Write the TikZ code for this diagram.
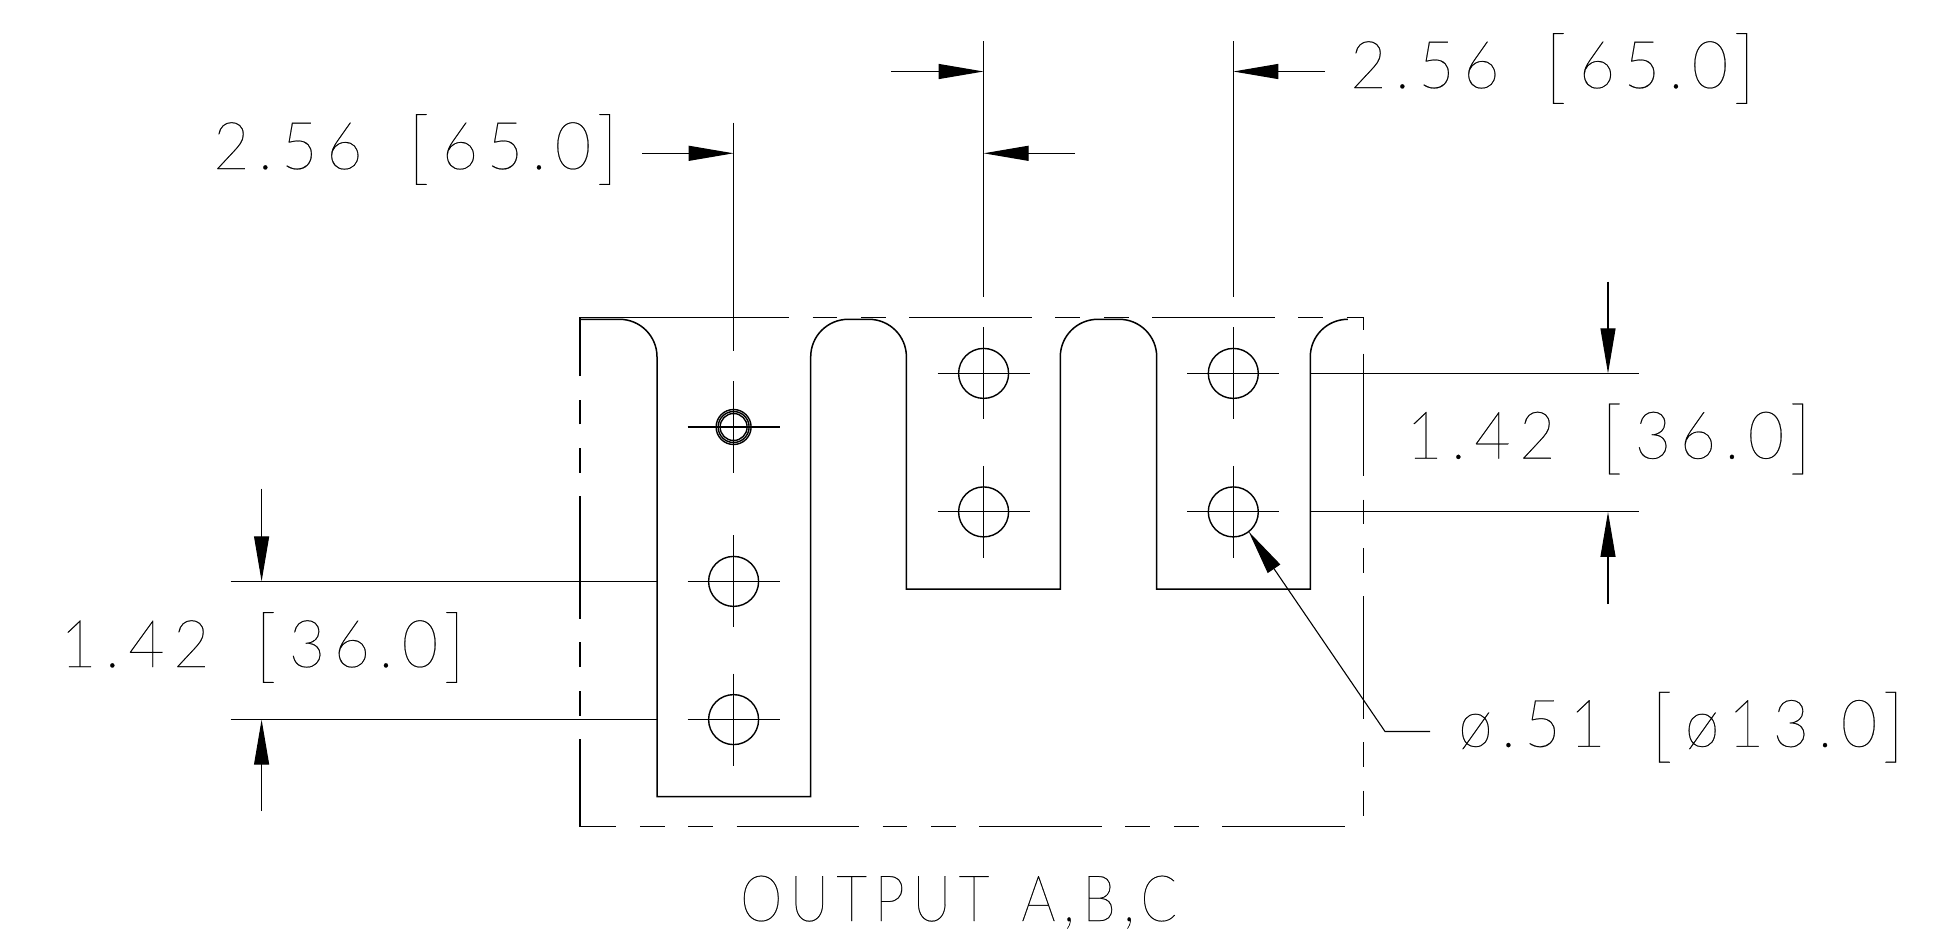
\documentclass[tikz,border=0pt]{standalone}
\usepackage{fontspec}
\usetikzlibrary{calc,positioning,arrows.meta}
\newfontfamily\dimfont[FakeStretch=0.95,LetterSpace=13,FakeBold=0.3]{Lato Thin}
\newfontfamily\titlefont[FakeStretch=0.84,LetterSpace=12,FakeBold=0.3]{Lato Thin}
\newcommand{\dimgap}{\hspace{45pt}}
\newcommand{\dimopen}{\raisebox{-6pt}{\fontsize{81}{70}\selectfont[}\kern12pt}
\newcommand{\dimclose}{\kern5pt\raisebox{-6pt}{\fontsize{81}{70}\selectfont]}}
\tikzset{
  line/.style = {-{Triangle[length=45pt,width=15pt]}, line width=1.1pt},
  thin line/.style = {line width=1.1pt},
  part/.style = {line width=1.5pt},
  hidden/.style = {line width=1.3pt, dash pattern=on 122.4pt off 23.6pt on 24.8pt off 23.6pt on 24.8pt off 23.6pt},
  hole/.style = {circle, draw, line width=1.4pt, inner sep=0pt, outer sep=0pt, minimum size=50pt},
  dimtext/.style = {anchor=base west, inner sep=0pt, font=\dimfont\fontsize{66}{70}\selectfont},
  titletext/.style = {anchor=base west, inner sep=0pt, font=\titlefont\fontsize{64}{70}\selectfont},
}

\begin{document}
\begin{tikzpicture}[x=1pt,y=-1pt]
  \useasboundingbox (0,0) rectangle (1944,948);
  % outline of the three output tabs
  \draw[part] (580,319.3) -- (619.5,319.3) arc[start angle=270,end angle=360,radius=37.5]
    -- (657,796.5) -- (810.7,796.5) -- (810.7,356.8) arc[start angle=180,end angle=270,radius=37.5]
    -- ++(20.7,0) arc[start angle=270,end angle=360,radius=37.5]
    -- (906.4,589) -- (1060.3,589) -- (1060.3,356.8) arc[start angle=180,end angle=270,radius=37.5]
    -- ++(21.4,0) arc[start angle=270,end angle=360,radius=37.5]
    -- (1156.7,589) -- (1310.3,589) -- (1310.3,356.8) arc[start angle=180,end angle=270,radius=37.5];
  % hidden rectangle
  \coordinate (tl) at (580,317.3);
  \coordinate (tm) at (789,317.3);
  \coordinate (tr) at (1363.3,317.3);
  \coordinate (bl) at (580,826.5);
  \coordinate (br) at (1363.3,826.5);
  \draw[part] (tl) -- (tm);
  \draw[hidden, dash phase=122.4pt] (tm) -- (tr);
  \draw[hidden, dash phase=35.1pt] (bl) -- (tl);
  \draw[hidden, dash phase=86.2pt] (bl) -- (br);
  \draw[hidden, dash phase=206.6pt] (tr) -- (br);
  % holes
  \node[hole] (a2) at (733.6,581.4) {};
  \node[hole] (a3) at (733.6,719.6) {};
  \node[hole] (b1) at (983.6,373.4) {};
  \node[hole] (b2) at (983.6,511.9) {};
  \node[hole] (c1) at (1233.3,373.4) {};
  \node[hole] (c2) at (1233.3,511.9) {};
  \node[hole, minimum size=35pt] (a1) at (733.6,427) {};
  \node[hole, minimum size=31pt] (a1m) at (a1) {};
  \node[hole, minimum size=27pt] (a1i) at (a1) {};
  \foreach \h in {a1,a2,a3,b1,b2,c1,c2} {
    \draw[thin line] (\h) +(-46,0) -- +(46,0);
    \draw[thin line] (\h) +(0,-46) -- +(0,46);
  }
  % extension lines
  \draw[thin line] (733.6,122.7) -- (733.6,350.7);
  \draw[thin line] (983.6,41) -- (983.6,297);
  \draw[thin line] (1233.3,41) -- (1233.3,297);
  \draw[thin line] (1310.3,373.4) -- (1639,373.4);
  \draw[thin line] (1310.3,511.9) -- (1639,511.9);
  \draw[thin line] (230.6,581.4) -- (657,581.4);
  \draw[thin line] (230.6,719.6) -- (657,719.6);
  % dimension arrows
  \draw[line] (642,153.3) -- (733.6,153.3);
  \draw[line] (891,71.5) -- (983.6,71.5);
  \draw[line] (1075,153.3) -- (983.6,153.3);
  \draw[line] (1325,71.5) -- (1233.3,71.5);
  \draw[line] (1608,281.5) -- (1608,373.4);
  \draw[line] (1608,604) -- (1608,511.9);
  \draw[line] (261.6,488.5) -- (261.6,581.4);
  \draw[line] (261.6,811) -- (261.6,719.6);
  % leader
  \coordinate (leadbend) at (1385,731.5);
  \draw[line] (1430,731.5) -- (leadbend) -- (c2.-52);
  % labels
  \node[dimtext] (pitcha) at (213,169) {2.56\dimgap\dimopen 65.0\dimclose};
  \node[dimtext] (pitchb) at (1350,88) {2.56\dimgap\dimopen 65.0\dimclose};
  \node[dimtext] (spanr) at (1406,458.5) {1.42\dimgap\dimopen 36.0\dimclose};
  \node[dimtext] (spanl) at (60,667) {1.42\dimgap\dimopen 36.0\dimclose};
  \node[dimtext] (bore) at (1458,746.7) {ø.51\dimgap\dimopen ø13.0\dimclose};
  \node[titletext] (title) at (740,921) {OUTPUT\hspace{32pt}A,B,C};
\end{tikzpicture}
\end{document}
